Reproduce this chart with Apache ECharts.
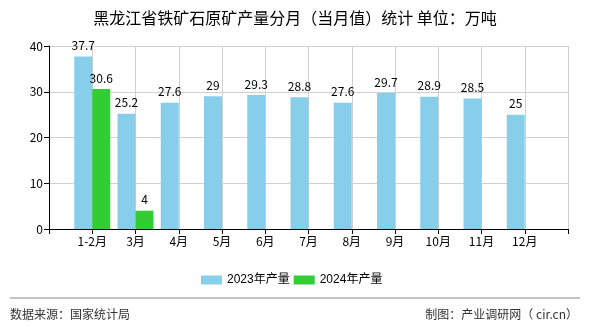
<!DOCTYPE html>
<html><head><meta charset="utf-8">
<script src="https://cdn.jsdelivr.net/npm/echarts@6/dist/echarts.min.js"></script>
<style>html,body{margin:0;padding:0;background:#fff}#c{width:590px;height:330px}</style>
</head><body><div id="c"></div>
<script>
const categories = ['1-2月','3月','4月','5月','6月','7月','8月','9月','10月','11月','12月'];
const values2023 = [37.7, 25.2, 27.6, 29, 29.3, 28.8, 27.6, 29.7, 28.9, 28.5, 25];
const values2024 = [30.6, 4];
const seriesNames = ['2023年产量','2024年产量'];
const titleText = '黑龙江省铁矿石原矿产量分月（当月值）统计 单位：万吨';
const sourceText = '数据来源：国家统计局';
const creditText = '制图：产业调研网（ cir.cn）';

const font = '"Noto Sans CJK SC", "DejaVu Sans", sans-serif';
const xData = [''].concat(categories, ['']);
const pad = arr => { const a = [null].concat(arr); while (a.length < xData.length) a.push(null); return a; };

const chart = echarts.init(document.getElementById('c'));
chart.setOption({
  animation: false,
  textStyle: { fontFamily: font },
  title: { text: titleText, left: 'center', top: 5,
    textStyle: { fontSize: 16, fontWeight: 'normal', color: '#000', fontFamily: font } },
  grid: { left: 49, right: 22, top: 46, bottom: 101 },
  legend: {
    data: seriesNames, left: 196, top: 269, itemWidth: 21, itemHeight: 9, itemGap: 4, icon: 'rect',
    textStyle: { fontSize: 12, color: '#000', fontFamily: '"Liberation Sans", "Noto Sans CJK SC", sans-serif' }
  },
  xAxis: {
    type: 'category', data: xData, boundaryGap: false,
    axisLine: { lineStyle: { color: '#000', width: 1 } },
    axisTick: { show: true, length: 5, lineStyle: { color: '#000' } },
    axisLabel: { color: '#000', fontSize: 12, margin: 6, interval: 0 },
    splitLine: { show: true, lineStyle: { color: '#d0d0d0' } }
  },
  yAxis: {
    type: 'value', min: 0, max: 40, interval: 10,
    axisLine: { show: true, lineStyle: { color: '#000' } },
    axisTick: { show: true, length: 5, lineStyle: { color: '#000' } },
    axisLabel: { color: '#000', fontSize: 12, margin: 6 },
    splitLine: { show: true, lineStyle: { color: '#d0d0d0' } }
  },
  series: [
    { name: seriesNames[0], type: 'bar', data: pad(values2023), barWidth: 18, barGap: '0%',
      itemStyle: { color: '#87CEEB' },
      label: { show: true, position: 'top', distance: 5, color: '#000', fontSize: 12 } },
    { name: seriesNames[1], type: 'bar', data: pad(values2024), barWidth: 18, barGap: '0%',
      itemStyle: { color: '#32CD32' },
      label: { show: true, position: 'top', distance: 5, color: '#000', fontSize: 12 } }
  ],
  graphic: [
    { type: 'line', shape: { x1: 10, y1: 298, x2: 580, y2: 298 }, style: { stroke: '#888', lineWidth: 1 } },
    { type: 'text', left: 10, top: 308, style: { text: sourceText, fill: '#333', font: '12px ' + font } },
    { type: 'text', right: 12, top: 308, style: { text: creditText, fill: '#333', font: '12px ' + font } }
  ]
});
</script></body></html>
